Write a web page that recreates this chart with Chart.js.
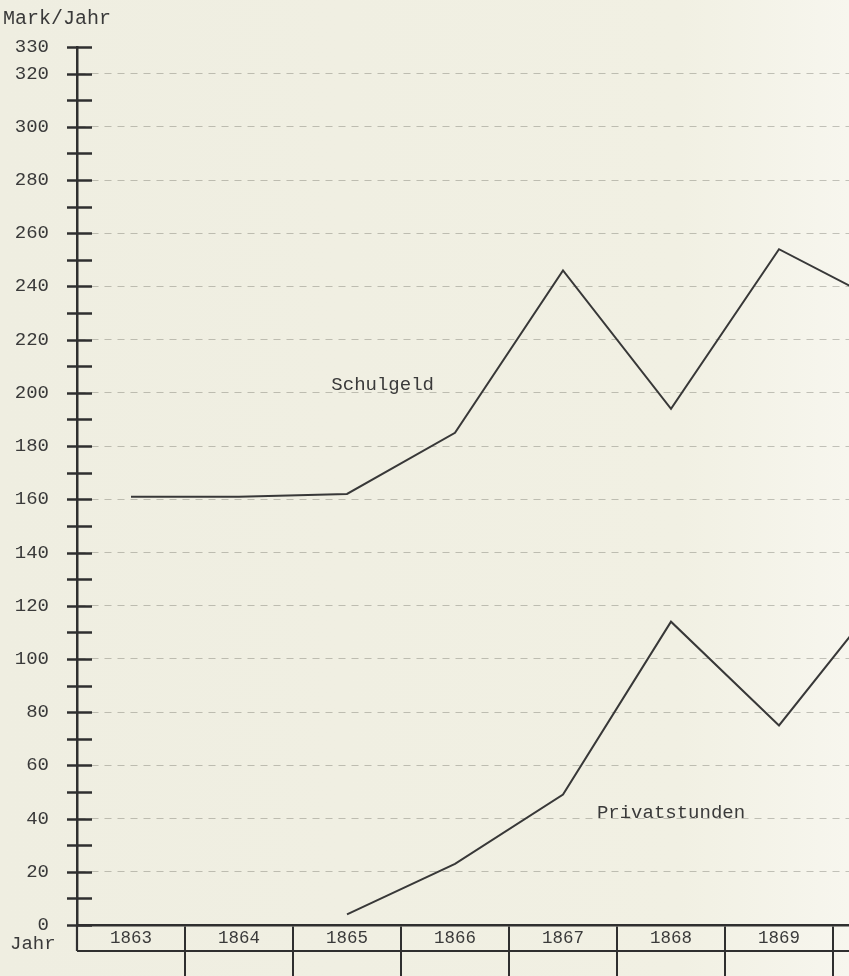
<!DOCTYPE html>
<html>
<head>
<meta charset="utf-8">
<script src="https://cdn.jsdelivr.net/npm/chart.js@4"></script>
<style>
  html, body { margin: 0; padding: 0; overflow: hidden;
    background: linear-gradient(to right, #efeee1 0%, #f1f0e3 80%, #f7f6ee 100%); }
  #wrap { position: relative; width: 941px; height: 976px; }
</style>
</head>
<body>
<div id="wrap"><canvas id="chart"></canvas></div>
<script>
// School year columns of the table under the chart
const years = ['1863', '1864', '1865', '1866', '1867', '1868', '1869', '1870'];
// Income in Mark per year
const schulgeld = [161, 161, 162, 185, 246, 194, 254, 233];
const privatstunden = [null, null, 4, 23, 49, 114, 75, 126];
// Y axis range and which values carry a printed label
const yMin = 0;
const yMax = 330;
const yStep = 10;
const yLabelled = [0, 20, 40, 60, 80, 100, 120, 140, 160, 180, 200, 220, 240, 260, 280, 300, 320, 330];
// Series names written next to their lines: [text, x category index, y value]
const seriesNames = [
  ['Schulgeld', 2.33, 203],
  ['Privatstunden', 5.0, 42]
];

const ink = '#2f2f2f';
const textInk = '#3a3a3a';
const typeFont = '"Liberation Mono", "DejaVu Sans Mono", monospace';

// Typewriter-style axis marks and the year table
const paperTable = {
  id: 'paperTable',
  afterDraw(chart) {
    const { ctx, chartArea, scales } = chart;
    const y = scales.y;
    const x = scales.x;
    ctx.save();
    // cross ticks on the value axis
    ctx.strokeStyle = ink;
    ctx.lineWidth = 2.5;
    y.ticks.forEach(t => {
      const py = Math.round(y.getPixelForValue(t.value)) + 0.5;
      ctx.beginPath();
      ctx.moveTo(chartArea.left - 10, py);
      ctx.lineTo(chartArea.left + 15, py);
      ctx.stroke();
    });
    // table: row separator and left frame
    const rowY = chartArea.bottom + 26;
    ctx.lineWidth = 2.2;
    ctx.beginPath();
    ctx.moveTo(chartArea.left, rowY);
    ctx.lineTo(x.right, rowY);
    ctx.moveTo(chartArea.left, chartArea.bottom);
    ctx.lineTo(chartArea.left, rowY);
    ctx.stroke();
    // row heading
    ctx.fillStyle = textInk;
    ctx.font = '19px ' + typeFont;
    ctx.textBaseline = 'middle';
    ctx.textAlign = 'left';
    ctx.fillText('Jahr', 10, chartArea.bottom + 19);
    // series names
    ctx.font = '19px ' + typeFont;
    ctx.textAlign = 'center';
    seriesNames.forEach(([txt, xi, yv]) => {
      const px = x.getPixelForValue(0) + xi * (x.getPixelForValue(1) - x.getPixelForValue(0));
      ctx.fillText(txt, px, y.getPixelForValue(yv));
    });
    ctx.restore();
  }
};

new Chart(document.getElementById('chart'), {
  type: 'line',
  data: {
    labels: years,
    datasets: [
      { label: 'Schulgeld', data: schulgeld, borderColor: '#383838', borderWidth: 2, pointRadius: 0, tension: 0 },
      { label: 'Privatstunden', data: privatstunden, borderColor: '#383838', borderWidth: 2, pointRadius: 0, tension: 0 }
    ]
  },
  options: {
    responsive: true,
    maintainAspectRatio: false,
    animation: false,
    layout: { padding: { left: 3, right: 0, top: 0, bottom: 0 } },
    plugins: {
      legend: { display: false },
      tooltip: { enabled: false },
      title: {
        display: true,
        text: 'Mark/Jahr',
        align: 'start',
        color: textInk,
        font: { family: typeFont, size: 20, weight: 'normal' },
        padding: { top: 7, bottom: 16 }
      }
    },
    scales: {
      x: {
        type: 'category',
        offset: true,
        grid: {
          offset: true,
          drawOnChartArea: false,
          drawTicks: true,
          tickLength: 52,
          lineWidth: 2,
          color: c => (c.index === 0 ? 'rgba(0,0,0,0)' : ink)
        },
        border: { display: true, color: ink, width: 2.5 },
        ticks: {
          color: textInk,
          font: { family: typeFont, size: 17.5 },
          padding: -49,
          maxRotation: 0,
          autoSkip: false
        },
        afterFit: s => { s.height = 51; }
      },
      y: {
        type: 'linear',
        min: yMin,
        max: yMax,
        grid: {
          drawTicks: false,
          lineWidth: 1,
          color: c => (c.tick && c.tick.value % 20 === 0 && c.tick.value > 0 && c.tick.value <= 320) ? 'rgba(80,80,70,0.32)' : 'rgba(0,0,0,0)'
        },
        border: { display: true, color: ink, width: 2.5, dash: [7, 6] },
        ticks: {
          stepSize: yStep,
          autoSkip: false,
          padding: 28,
          color: textInk,
          font: { family: typeFont, size: 19 },
          callback: v => (yLabelled.includes(v) ? String(v) : '')
        },
        afterFit: s => { s.width = 74; }
      }
    }
  },
  plugins: [paperTable]
});
</script>
</body>
</html>
